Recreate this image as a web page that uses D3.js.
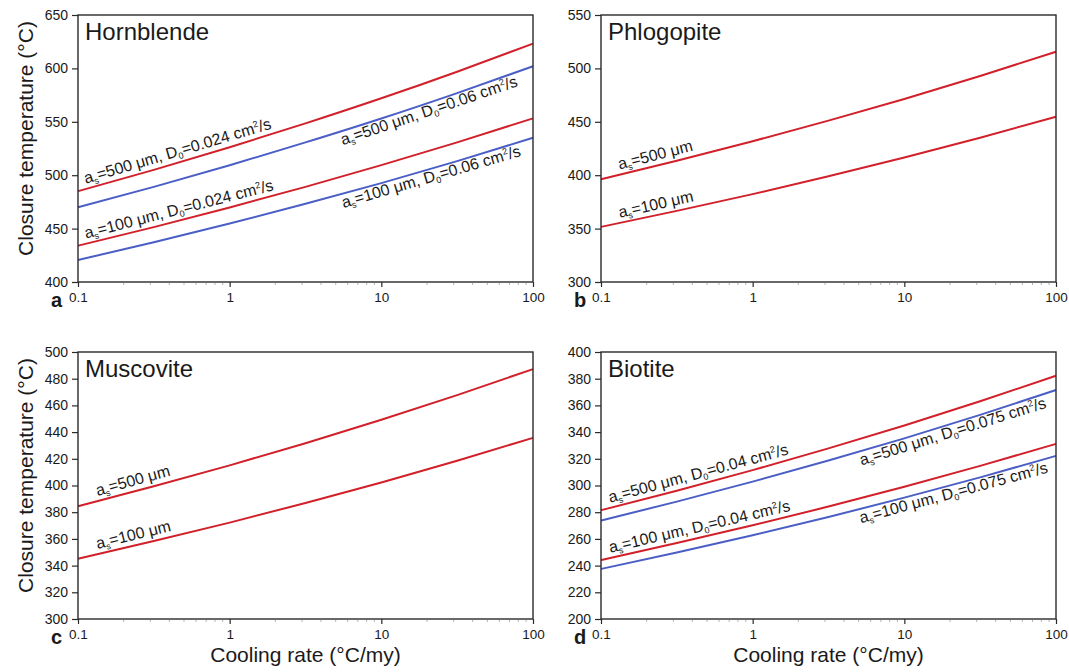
<!DOCTYPE html>
<html>
<head>
<meta charset="utf-8">
<script src="https://cdn.jsdelivr.net/npm/d3@7"></script>
<style>
  html, body { margin: 0; padding: 0; background: #fff; }
  svg { display: block; font-family: "Liberation Sans", Arial, Helvetica, sans-serif; }
</style>
</head>
<body>
<svg id="chart" width="1069" height="672"></svg>
<script>
// Cooling rates (°C/my) at which closure temperatures are tabulated
const coolingRates = [0.1, 0.316, 1, 3.16, 10, 31.6, 100];
const xTickValues = [0.1, 1, 10, 100];
const xTickLabels = ["0.1", "1", "10", "100"];

// Closure temperatures (°C)
// Hornblende
const hbl500D024 = [485.0, 505.0, 526.2, 548.5, 572.0, 596.9, 623.2];
const hbl500D06  = [470.0, 489.1, 509.3, 530.7, 553.1, 576.9, 602.0];
const hbl100D024 = [434.0, 451.4, 469.8, 489.1, 509.4, 530.7, 553.2];
const hbl100D06  = [420.6, 437.2, 454.7, 473.2, 492.6, 513.2, 535.0];
// Phlogopite
const phl500 = [396.2, 413.5, 431.8, 451.1, 471.4, 492.9, 515.6];
const phl100 = [351.6, 366.6, 382.3, 399.0, 416.5, 435.1, 454.7];
// Muscovite
const ms500 = [384.5, 399.4, 415.1, 431.7, 449.2, 467.7, 487.2];
const ms100 = [345.2, 358.4, 372.2, 386.9, 402.2, 418.5, 435.7];
// Biotite
const bt500D04  = [281.5, 296.1, 311.5, 327.8, 344.9, 363.1, 382.2];
const bt500D075 = [273.8, 287.9, 302.9, 318.7, 335.3, 352.9, 371.5];
const bt100D04  = [244.2, 256.9, 270.2, 284.2, 299.0, 314.7, 331.2];
const bt100D075 = [237.5, 249.8, 262.8, 276.4, 290.9, 306.1, 322.2];

// Y tick values per panel
const yTicksHbl = [400, 450, 500, 550, 600, 650];
const yTicksPhl = [300, 350, 400, 450, 500, 550];
const yTicksMs  = [300, 320, 340, 360, 380, 400, 420, 440, 460, 480, 500];
const yTicksBt  = [200, 220, 240, 260, 280, 300, 320, 340, 360, 380, 400];

const RED = "#d2202a";
const BLUE = "#4a5ec6";
const INK = "#1a1a1a";

const PW = 455, PH = 267;
const LABEL_SIZE = 16, SUB_SIZE = 9;

const panels = [
  { letter: "a", title: "Hornblende", left: 78, top: 15, domain: [400, 650], ticks: yTicksHbl, yTitle: true, xTitle: false,
    series: [
      { values: hbl500D024, color: RED,  size: "500", d0: "0.024", at: 0.115, side: "above" },
      { values: hbl500D06,  color: BLUE, size: "500", d0: "0.06",  at: 5.2,   side: "below" },
      { values: hbl100D024, color: RED,  size: "100", d0: "0.024", at: 0.115, side: "above" },
      { values: hbl100D06,  color: BLUE, size: "100", d0: "0.06",  at: 5.3,   side: "below" }
    ] },
  { letter: "b", title: "Phlogopite", left: 601, top: 15, domain: [300, 550], ticks: yTicksPhl, yTitle: false, xTitle: false,
    series: [
      { values: phl500, color: RED, size: "500", d0: null, at: 0.135, side: "above" },
      { values: phl100, color: RED, size: "100", d0: null, at: 0.135, side: "above" }
    ] },
  { letter: "c", title: "Muscovite", left: 78, top: 352, domain: [300, 500], ticks: yTicksMs, yTitle: true, xTitle: true,
    series: [
      { values: ms500, color: RED, size: "500", d0: null, at: 0.137, side: "above" },
      { values: ms100, color: RED, size: "100", d0: null, at: 0.137, side: "above" }
    ] },
  { letter: "d", title: "Biotite", left: 601, top: 352, domain: [200, 400], ticks: yTicksBt, yTitle: false, xTitle: true,
    series: [
      { values: bt500D04,  color: RED,  size: "500", d0: "0.04",  at: 0.117, side: "above" },
      { values: bt500D075, color: BLUE, size: "500", d0: "0.075", at: 4.9,   side: "below" },
      { values: bt100D04,  color: RED,  size: "100", d0: "0.04",  at: 0.117, side: "above" },
      { values: bt100D075, color: BLUE, size: "100", d0: "0.075", at: 4.9,   side: "below" }
    ] }
];

const svg = d3.select("#chart");

// temperature at an arbitrary rate, interpolated in log-rate space
function tempAt(values, r) {
  const lr = Math.log10(r);
  for (let i = 0; i < coolingRates.length - 1; i++) {
    const a = Math.log10(coolingRates[i]), b = Math.log10(coolingRates[i + 1]);
    if (lr <= b || i === coolingRates.length - 2) {
      const t = (lr - a) / (b - a);
      return values[i] + t * (values[i + 1] - values[i]);
    }
  }
}

const minorTicks = [];
[0.1, 1, 10].forEach(dec => { for (let k = 2; k <= 9; k++) minorTicks.push(dec * k); });

panels.forEach(p => {
  const g = svg.append("g").attr("transform", `translate(${p.left},${p.top})`);
  const x = d3.scaleLog().domain([0.1, 100]).range([0, PW]);
  const y = d3.scaleLinear().domain(p.domain).range([PH, 0]);

  // curves
  const line = d3.line()
    .x((d, i) => x(coolingRates[i]))
    .y(d => y(d))
    .curve(d3.curveMonotoneX);

  p.series.forEach(s => {
    g.append("path")
      .attr("d", line(s.values))
      .attr("fill", "none")
      .attr("stroke", s.color)
      .attr("stroke-width", 2);
  });

  // curve labels, aligned with the local slope of each curve
  p.series.forEach(s => {
    const r1 = s.at;
    const r2 = Math.min(r1 * 18, 100);
    const x1 = x(r1), y1 = y(tempAt(s.values, r1));
    const x2 = x(r2), y2 = y(tempAt(s.values, r2));
    const ang = Math.atan2(y2 - y1, x2 - x1) * 180 / Math.PI;
    const off = s.side === "above" ? -5 : 14;
    const t = g.append("text")
      .attr("transform", `translate(${x1},${y1}) rotate(${ang})`)
      .attr("x", 0).attr("y", off)
      .attr("font-size", LABEL_SIZE)
      .attr("fill", INK);
    t.append("tspan").text("a");
    t.append("tspan").attr("font-size", SUB_SIZE).attr("dy", 3).text("s");
    t.append("tspan").attr("dy", -3).text(`=${s.size} μm`);
    if (s.d0) {
      t.append("tspan").text(", D");
      t.append("tspan").attr("font-size", SUB_SIZE).attr("dy", 3).text("0");
      t.append("tspan").attr("dy", -3).text(`=${s.d0} cm`);
      t.append("tspan").attr("font-size", SUB_SIZE).attr("dy", -6).text("2");
      t.append("tspan").attr("dy", 6).text("/s");
    }
  });

  // frame
  g.append("rect")
    .attr("x", 0).attr("y", 0).attr("width", PW).attr("height", PH)
    .attr("fill", "none").attr("stroke", "#2a2a2a").attr("stroke-width", 1.4);

  // y axis
  const ya = g.append("g")
    .call(d3.axisLeft(y).tickValues(p.ticks).tickSize(6).tickPadding(4).tickFormat(d3.format("d")));
  ya.select(".domain").remove();
  ya.selectAll(".tick line").attr("stroke", "#2a2a2a").attr("stroke-width", 1.2);
  ya.selectAll(".tick text").attr("font-size", 14).attr("fill", INK)
    .attr("font-family", "Liberation Sans, Arial, sans-serif");

  // x axis
  const xa = g.append("g").attr("transform", `translate(0,${PH})`)
    .call(d3.axisBottom(x).tickValues(xTickValues).tickSize(5).tickPadding(5)
      .tickFormat((d, i) => xTickLabels[i]));
  xa.select(".domain").remove();
  xa.selectAll(".tick line").attr("stroke", "#2a2a2a").attr("stroke-width", 1.2);
  xa.selectAll(".tick text").attr("font-size", 13.5).attr("fill", INK)
    .attr("font-family", "Liberation Sans, Arial, sans-serif");

  // minor x ticks
  g.append("g").selectAll("line").data(minorTicks).join("line")
    .attr("x1", d => x(d)).attr("x2", d => x(d))
    .attr("y1", PH + 1).attr("y2", PH + 3)
    .attr("stroke", "#b5b5b5").attr("stroke-width", 1);

  // mineral name
  g.append("text")
    .attr("x", 7).attr("y", 25)
    .attr("font-size", 24).attr("fill", INK)
    .text(p.title);

  // panel letter
  g.append("text")
    .attr("x", -27).attr("y", PH + 25)
    .attr("font-size", 20).attr("font-weight", "bold").attr("fill", INK)
    .text(p.letter);

  if (p.yTitle) {
    g.append("text")
      .attr("transform", `translate(${33 - p.left},${PH / 2 - 10}) rotate(-90)`)
      .attr("text-anchor", "middle")
      .attr("font-size", 21).attr("fill", INK)
      .text("Closure temperature (°C)");
  }
  if (p.xTitle) {
    g.append("text")
      .attr("x", PW / 2).attr("y", PH + 43)
      .attr("text-anchor", "middle")
      .attr("font-size", 21).attr("fill", INK)
      .text("Cooling rate (°C/my)");
  }
});
</script>
</body>
</html>
